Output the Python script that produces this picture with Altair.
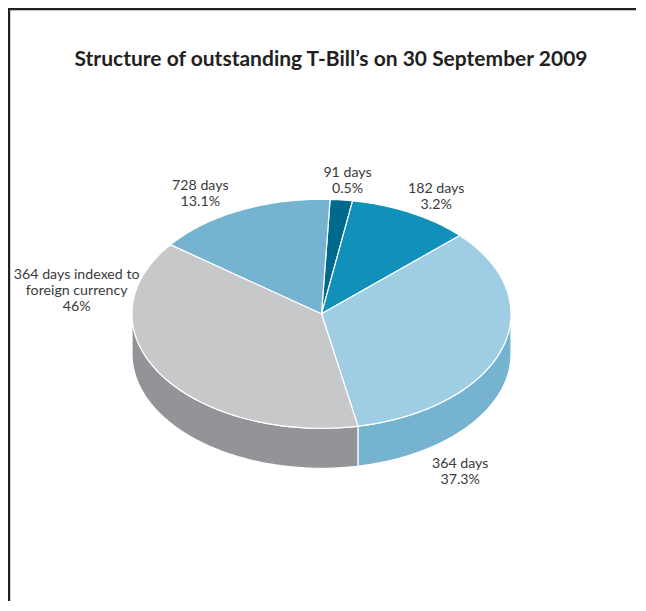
import numpy as np
import pandas as pd
import altair as alt

# ---- data ----
categories = ["91 days", "182 days", "364 days",
              "364 days indexed to foreign currency", "728 days"]
pct_labels = ["0.5%", "3.2%", "37.3%", "46%", "13.1%"]
# slice sizes as drawn in the reference (percent of the full circle)
slice_share = [1.9, 10.4, 33.9, 38.4, 15.4]
label_text = ["91 days\n0.5%",
              "182 days\n3.2%",
              "364 days\n37.3%",
              "364 days indexed to\nforeign currency\n46%",
              "728 days\n13.1%"]
title_text = "Structure of outstanding T-Bill\u2019s on 30 September 2009"

# ---- styles / layout ----
top_colors = ["#006a8e", "#1191b9", "#9ecde4", "#c7c8ca", "#75b3d0"]
side_colors = ["#005a7a", "#0e7ca0", "#75b3d0", "#939498", "#5f9dbb"]
W, H = 628, 593
OX, OY = 8, 8          # page offset of the plot area
CX, CY, RX, RY, DEPTH = 321.5, 313.8, 189.5, 114.5, 40.0
START = 2.6            # degrees, clockwise from 12 o'clock
LINE_H = 16.2
FS = 14.2
# top of the first text line (page px)
label_anchor = [(347.5, 166.0), (436.2, 182.0), (460.2, 457.0),
                (76.7, 267.5), (200.3, 178.5)]


def ell(theta_deg, dy=0.0):
    t = np.radians(theta_deg)
    return CX + RX * np.sin(t), CY - RY * np.cos(t) + dy


rows = []
cum = START
for k, (cat, share) in enumerate(zip(categories, slice_share)):
    a0, a1 = cum, cum + share * 3.6
    cum = a1
    n = max(6, int((a1 - a0) / 1.0))
    pts = [(CX, CY)] + [ell(t) for t in np.linspace(a0, a1, n + 1)] + [(CX, CY)]
    for i, (x, y) in enumerate(pts):
        rows.append(dict(part="top", key=f"{cat}|top", i=i, x=x, y=y))
    s0, s1 = max(a0, 90.0), min(a1, 270.0)
    if s0 < s1:
        m = max(6, int((s1 - s0) / 1.0))
        upper = [ell(t) for t in np.linspace(s0, s1, m + 1)]
        lower = [(x, y + DEPTH) for (x, y) in reversed(upper)]
        side = upper + lower + [upper[0]]
        for i, (x, y) in enumerate(side):
            rows.append(dict(part="side", key=f"{cat}|side", i=i, x=x, y=y))

geo = pd.DataFrame(rows)

color_domain = [f"{c}|top" for c in categories] + [f"{c}|side" for c in categories]
color_range = top_colors + side_colors

xs = alt.Scale(domain=[OX, OX + W])
ys = alt.Scale(domain=[OY, OY + H], reverse=True)

base = alt.Chart(geo).encode(
    x=alt.X("x:Q", scale=xs, axis=None),
    y=alt.Y("y:Q", scale=ys, axis=None),
    order=alt.Order("i:Q"),
    detail="key:N",
    color=alt.Color("key:N", scale=alt.Scale(domain=color_domain, range=color_range),
                    legend=None),
)
sides = base.transform_filter(alt.datum.part == "side").mark_line(
    filled=True, stroke="white", strokeWidth=1.2, strokeJoin="round")
tops = base.transform_filter(alt.datum.part == "top").mark_line(
    filled=True, stroke="white", strokeWidth=1.2, strokeJoin="round")

lab_df = pd.DataFrame({
    "text": label_text,
    "lx": [a[0] for a in label_anchor],
    "ly": [a[1] for a in label_anchor],
})
labels = alt.Chart(lab_df).mark_text(
    font="Lato", fontSize=FS, lineHeight=LINE_H, lineBreak="\n",
    color="#3a3a3a", align="center", baseline="top"
).encode(
    x=alt.X("lx:Q", scale=xs, axis=None),
    y=alt.Y("ly:Q", scale=ys, axis=None),
    text="text:N",
)

title = alt.Chart(pd.DataFrame({"t": [title_text], "tx": [331.0], "ty": [60.0]})).mark_text(
    font="Lato", fontSize=21, fontWeight="bold", color="#231f20",
    align="center", baseline="middle"
).encode(
    x=alt.X("tx:Q", scale=xs, axis=None),
    y=alt.Y("ty:Q", scale=ys, axis=None),
    text="t:N",
)

# page frame: left and top border, drawn as thin filled bands
frame_df = pd.DataFrame({"fx": [OX, OX], "fx2": [OX + 2.2, OX + W],
                         "fy": [OY, OY], "fy2": [OY + H, OY + 2.2]})
frame = alt.Chart(frame_df).mark_rect(color="#231f20", strokeWidth=0).encode(
    x=alt.X("fx:Q", scale=xs, axis=None), x2="fx2:Q",
    y=alt.Y("fy:Q", scale=ys, axis=None), y2="fy2:Q")

chart = alt.layer(sides, tops, labels, title, frame).properties(
    width=W, height=H,
    autosize=alt.AutoSizeParams(type="fit", contains="padding"),
    padding=0,
).configure_view(stroke=None)

chart.save("out.html", embed_options={"renderer": "svg", "actions": False})
